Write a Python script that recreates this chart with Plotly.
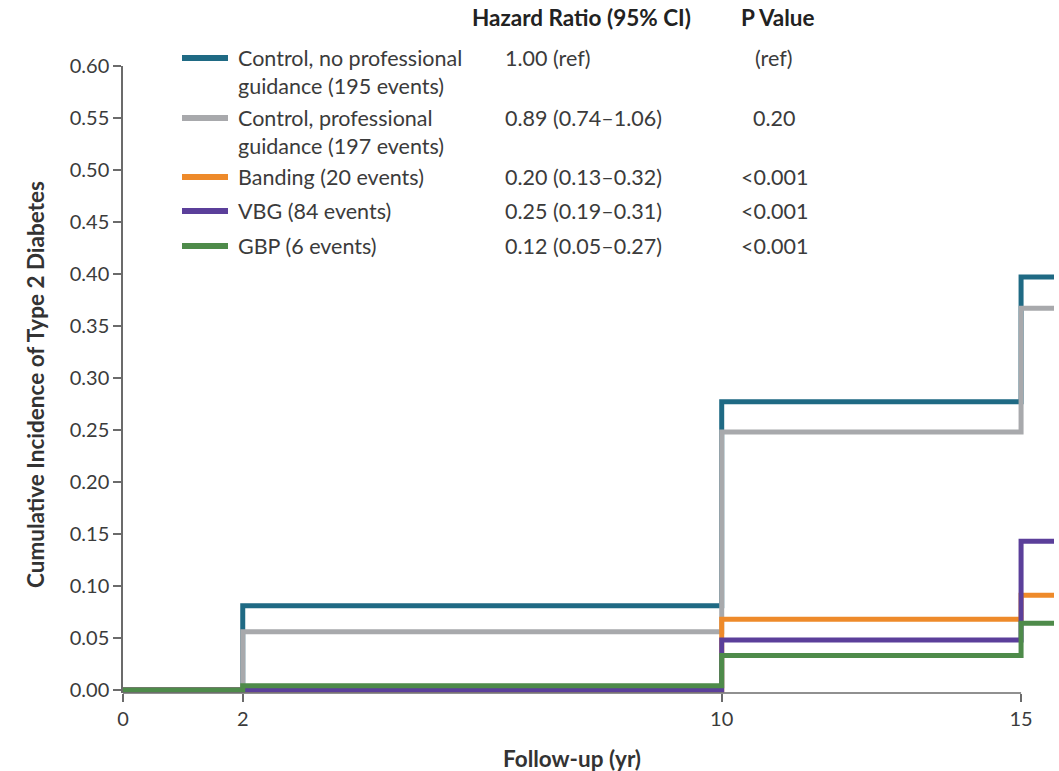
import plotly.graph_objects as go

# ---- data ----
follow_up_yr = [0, 2, 10, 15, 15.6]
series_names = [
    "Control, no professional<br>guidance (195 events)",
    "Control, professional<br>guidance (197 events)",
    "Banding (20 events)",
    "VBG (84 events)",
    "GBP (6 events)",
]
control_no_guidance = [0.0, 0.081, 0.277, 0.397, 0.397]
control_guidance = [0.0, 0.056, 0.248, 0.367, 0.367]
banding = [0.0, 0.0, 0.068, 0.091, 0.091]
vbg = [0.0, 0.0, 0.048, 0.143, 0.143]
gbp = [0.0, 0.004, 0.033, 0.064, 0.064]
hazard_ratios = ["1.00 (ref)", "0.89 (0.74\u20131.06)", "0.20 (0.13\u20130.32)",
                 "0.25 (0.19\u20130.31)", "0.12 (0.05\u20130.27)"]
p_values = ["(ref)", "0.20", "<0.001", "<0.001", "<0.001"]
x_ticks = [0, 2, 10, 15]
y_ticks = [0.0, 0.05, 0.10, 0.15, 0.20, 0.25, 0.30, 0.35, 0.40, 0.45, 0.50, 0.55, 0.60]

colors = ["#1f6a84", "#a8a9ac", "#ee8a2a", "#5b3f9a", "#4e8b4a"]
all_series = [control_no_guidance, control_guidance, banding, vbg, gbp]

W, H = 1059, 771
ML, MR, MT, MB = 123, 5, 66, 78
PW, PH = W - ML - MR, H - MT - MB
FONT = "Lato"
TXT = "#3b3b3b"
LEG_SIZE = 21.5
BOLD_SIZE = 22.5


def px(xp):
    return (xp - ML) / PW


def py(yp):
    return (H - MB - yp) / PH


fig = go.Figure()
for ys, c, n in zip(all_series, colors, series_names):
    fig.add_trace(go.Scatter(x=follow_up_yr, y=ys, mode="lines", line_shape="hv",
                             line=dict(color=c, width=5), name=n, showlegend=False))

shapes = []
annotations = []

# custom x axis baseline ending at last tick
shapes.append(dict(type="line", xref="x", yref="paper", x0=x_ticks[0], x1=x_ticks[-1],
                   y0=0, y1=0, line=dict(color="#6b6b6b", width=1.5)))

# legend table
row_y = [58, 118, 177, 211, 246]
for i, (n, c, hr, pv) in enumerate(zip(series_names, colors, hazard_ratios, p_values)):
    y = row_y[i]
    shapes.append(dict(type="line", xref="paper", yref="paper", x0=px(182), x1=px(228),
                       y0=py(y), y1=py(y), line=dict(color=c, width=6)))
    annotations.append(dict(xref="paper", yref="paper", x=px(236), y=py(y - 15),
                            xanchor="left", yanchor="top", text=n, showarrow=False, align="left",
                            font=dict(family=FONT, size=LEG_SIZE, color=TXT)))
    annotations.append(dict(xref="paper", yref="paper", x=px(503), y=py(y),
                            xanchor="left", yanchor="middle", text=hr, showarrow=False,
                            font=dict(family=FONT, size=LEG_SIZE, color=TXT)))
    annotations.append(dict(xref="paper", yref="paper", x=px(774), y=py(y),
                            xanchor="center", yanchor="middle", text=pv, showarrow=False,
                            font=dict(family=FONT, size=LEG_SIZE, color=TXT)))

annotations.append(dict(xref="paper", yref="paper", x=px(470), y=py(17), xanchor="left",
                        yanchor="middle", text="<b>Hazard Ratio (95% CI)</b>", showarrow=False,
                        font=dict(family=FONT, size=BOLD_SIZE, color="#222222")))
annotations.append(dict(xref="paper", yref="paper", x=px(739), y=py(17), xanchor="left",
                        yanchor="middle", text="<b>P Value</b>", showarrow=False,
                        font=dict(family=FONT, size=BOLD_SIZE, color="#222222")))
# axis titles
annotations.append(dict(xref="paper", yref="paper", x=px(35), y=py(385), xanchor="center",
                        yanchor="middle", text="<b>Cumulative Incidence of Type 2 Diabetes</b>",
                        textangle=-90, showarrow=False,
                        font=dict(family=FONT, size=BOLD_SIZE, color="#333333")))
annotations.append(dict(xref="paper", yref="paper", x=px(572), y=py(758), xanchor="center",
                        yanchor="middle", text="<b>Follow-up (yr)</b>", showarrow=False,
                        font=dict(family=FONT, size=BOLD_SIZE, color="#333333")))

fig.update_layout(
    width=W, height=H,
    margin=dict(l=ML, r=MR, t=MT, b=MB, pad=0),
    paper_bgcolor="white", plot_bgcolor="white",
    shapes=shapes, annotations=annotations,
    xaxis=dict(range=[0, 15.55], tickvals=x_ticks, ticktext=[str(v) for v in x_ticks],
               showline=False, showgrid=False, zeroline=False, ticks="outside", ticklen=8,
               tickwidth=1.5, tickcolor="#6b6b6b",
               tickfont=dict(family=FONT, size=20, color=TXT)),
    yaxis=dict(range=[-0.003, 0.6], tickvals=y_ticks, ticktext=[f"{v:.2f}" for v in y_ticks],
               showline=True, linecolor="#6b6b6b", linewidth=1.5, showgrid=False, zeroline=False,
               ticks="outside", ticklen=8, tickwidth=1.5, tickcolor="#6b6b6b",
               tickfont=dict(family=FONT, size=20, color=TXT)),
)

fig.write_html("out.html")
